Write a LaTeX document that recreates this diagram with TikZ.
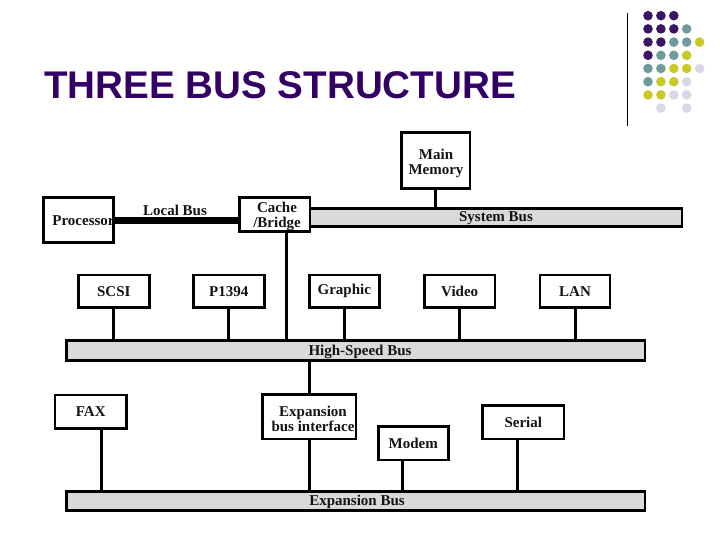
\documentclass[tikz,border=0pt]{standalone}
\usepackage{fontspec}
\setmainfont{Liberation Serif}
\newfontfamily\titlefont{Liberation Sans}
\definecolor{titlepurple}{RGB}{51,0,102}
\definecolor{dotP}{RGB}{60,20,100}
\definecolor{dotT}{RGB}{110,155,155}
\definecolor{dotY}{RGB}{200,200,40}
\definecolor{dotL}{RGB}{215,215,232}
\definecolor{busgray}{RGB}{218,218,218}
\definecolor{ink}{RGB}{20,20,20}
\begin{document}
\begin{tikzpicture}[x=1pt,y=-1pt,
  lbl/.style={font=\fontsize{15}{15}\selectfont\bfseries, text=ink, align=center, inner sep=0pt},
  box/.style={lbl, draw=black, line width=2.6pt, fill=white},
  bus/.style={draw=black, line width=2.6pt, fill=busgray, inner sep=0pt},
  conn/.style={draw=black, line width=3pt},
  localbus/.style={draw=black, line width=7pt}]
\useasboundingbox (0,0) rectangle (720,540);

% decoration
\foreach \c/\r/\k in {0/0/dotP,1/0/dotP,2/0/dotP,
  0/1/dotP,1/1/dotP,2/1/dotP,3/1/dotT,
  0/2/dotP,1/2/dotP,2/2/dotT,3/2/dotT,4/2/dotY,
  0/3/dotP,1/3/dotT,2/3/dotT,3/3/dotY,
  0/4/dotT,1/4/dotT,2/4/dotY,3/4/dotY,4/4/dotL,
  0/5/dotT,1/5/dotY,2/5/dotY,3/5/dotL,
  0/6/dotY,1/6/dotY,2/6/dotL,3/6/dotL,
  1/7/dotL,3/7/dotL}
  \fill[\k] (648+12.9*\c, 15.7+13.2*\r) circle (4.8);
\draw[line width=1pt] (627,13) -- (627,126);

\node[anchor=base west, inner sep=0pt, text=titlepurple, font=\titlefont\bfseries\fontsize{38.6}{40}\selectfont] (title) at (44,98.3) {THREE BUS STRUCTURE};

% buses
\node[bus, minimum width=382, minimum height=18] (sysbus) at (491,217.3) {};
\node[bus, minimum width=578.3, minimum height=20] (hsbus) at (355.9,350.7) {};
\node[bus, minimum width=578.3, minimum height=19] (expbus) at (355.9,501.2) {};
\node[lbl] (syslbl) at (496,218.5) {System Bus};
\node[lbl] (hslbl) at (360,351.5) {High-Speed Bus};
\node[lbl] (explbl) at (357,502) {Expansion Bus};

% top level
\node[box, minimum width=68.3, minimum height=56] (mem) at (435.8,160.3) {};
\node[lbl] (memlbl) at (436,163) {Main\\Memory};
\node[box, minimum width=70, minimum height=44.6] (proc) at (78.3,220) {};
\node[lbl] (proclbl) at (83.5,220.5) {Processor};
\node[box, minimum width=70.7, minimum height=34] (cache) at (274.7,214.7) {};
\node[lbl] (cachelbl) at (277,216) {Cache\\/Bridge};

\draw[localbus] (proc.east |- 0,220.7) -- (cache.west |- 0,220.7);
\node[lbl, anchor=base] (locallbl) at (175,215.5) {Local Bus};
\draw[conn] (mem.south) -- (mem.south |- sysbus.north);

% peripherals
\node[box, minimum width=71, minimum height=32.3] (scsi) at (113.8,291.2) {SCSI};
\node[box, minimum width=71, minimum height=32.3] (p1394) at (228.8,291.2) {P1394};
\node[box, minimum width=70, minimum height=32.3] (graphic) at (344.3,291.2) {Graphic};
\node[box, minimum width=70.7, minimum height=32.3] (video) at (459.7,291.2) {Video};
\node[box, minimum width=70, minimum height=32.3] (lan) at (575,291.2) {LAN};
\foreach \n in {scsi,p1394,graphic,video,lan}
  \draw[conn] (\n.south) -- (\n.south |- hsbus.north);
\draw[conn] ([xshift=12pt]cache.south) -- ([xshift=12pt]cache.south |- hsbus.north);

% expansion
\node[box, minimum width=71.7, minimum height=33.3] (fax) at (90.8,411.7) {FAX};
\node[box, minimum width=93.3, minimum height=44.7] (ebi) at (309.3,416.7) {};
\node[lbl] (ebilbl) at (313,419) {Expansion\\bus interface};
\node[box, minimum width=70, minimum height=33.3] (modem) at (413.3,443.3) {Modem};
\node[box, minimum width=81.3, minimum height=33.3] (serial) at (523.3,422.3) {Serial};
\draw[conn] (hsbus.south -| ebi.north) -- (ebi.north);
\draw[conn] (ebi.south) -- (ebi.south |- expbus.north);
\draw[conn] ([xshift=11pt]fax.south) -- ([xshift=11pt]fax.south |- expbus.north);
\draw[conn] ([xshift=-10.6pt]modem.south) -- ([xshift=-10.6pt]modem.south |- expbus.north);
\draw[conn] ([xshift=-5.6pt]serial.south) -- ([xshift=-5.6pt]serial.south |- expbus.north);
\end{tikzpicture}
\end{document}
